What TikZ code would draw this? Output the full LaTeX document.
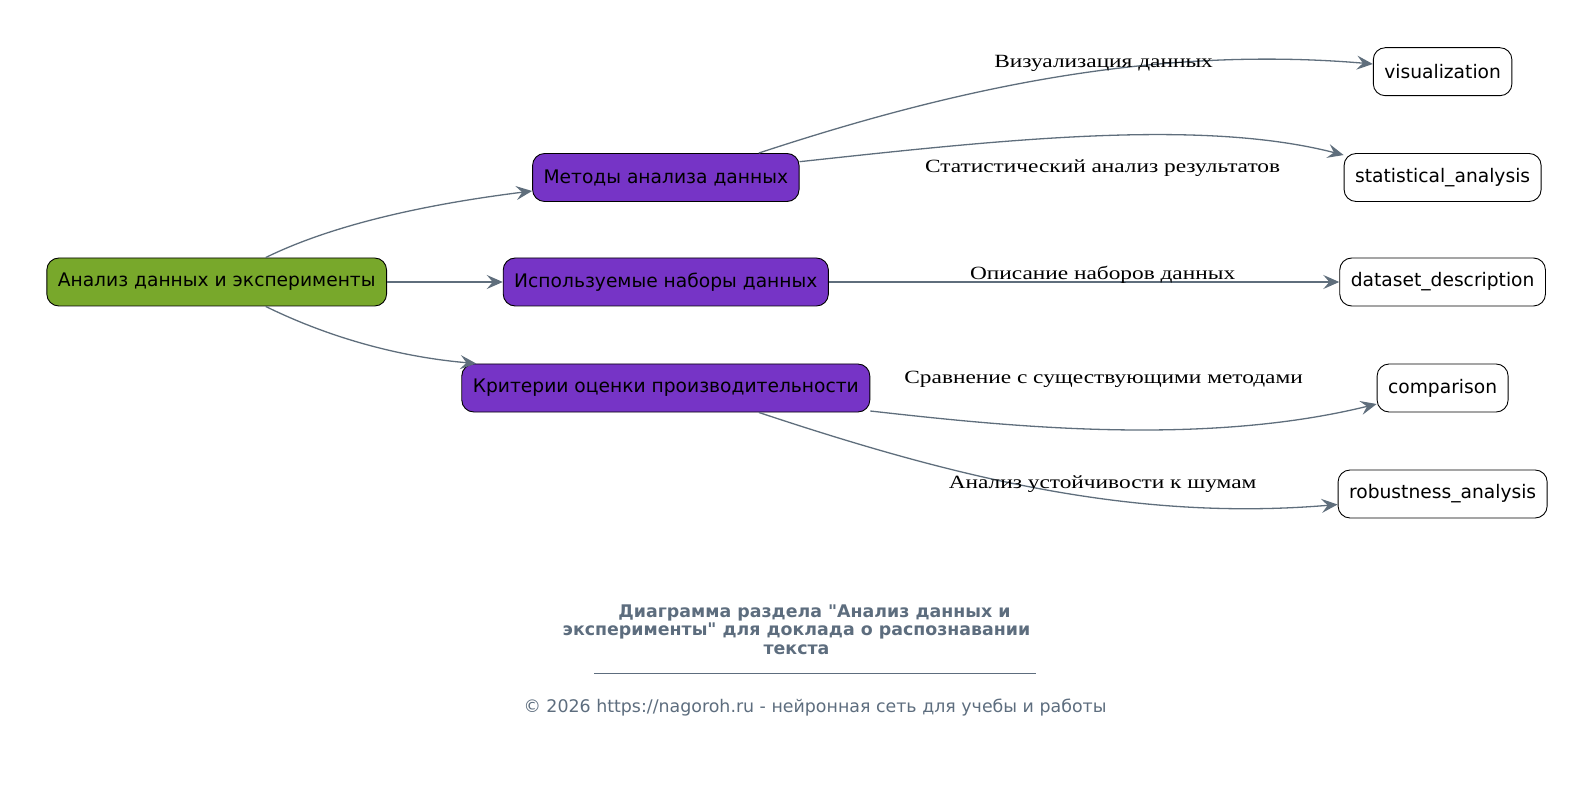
\documentclass[tikz,border=0pt]{standalone}
\usepackage{fontspec}
\setmainfont{DejaVu Sans}
\newfontfamily\labelserif{Liberation Serif}[FakeStretch=1.25]
\usepackage{tikz}
\usetikzlibrary{arrows.meta}

\definecolor{rootgreen}{HTML}{78A82B}
\definecolor{sectpurple}{HTML}{7634C6}
\definecolor{edgegray}{HTML}{5F6E7C}
\definecolor{titlegray}{HTML}{5D6D7E}

\tikzset{
  box/.style={draw=black, line width=0.9pt, rounded corners=12pt, minimum height=48pt,
    inner xsep=11pt, inner ysep=0pt, font=\fontsize{18.67}{22}\selectfont},
  rootbox/.style={box, fill=rootgreen},
  sectbox/.style={box, fill=sectpurple},
  leafbox/.style={box, fill=white},
  edge/.style={draw=edgegray, line width=1.3pt, -{Stealth[length=16pt,width=14pt,inset=6pt]}},
  edgelabel/.style={font=\labelserif\fontsize{18.67}{22}\selectfont}
}

\begin{document}
\begin{tikzpicture}[x=1pt,y=-1pt]
\useasboundingbox (0,0) rectangle (1595,791);
\node[rootbox] (root) at (216.7,282) {Анализ данных и эксперименты};
\node[sectbox] (methods) at (665.8,177.5) {Методы анализа данных};
\node[sectbox] (datasets) at (665.8,282) {Используемые наборы данных};
\node[sectbox] (criteria) at (665.8,388) {Критерии оценки производительности};
\foreach \n/\y/\t in {vis/71.7/visualization,stat/177.5/statistical\_analysis,
    desc/282/dataset\_description,comp/388/comparison,robust/494/robustness\_analysis}
  \node[leafbox] (\n) at (1442.6,\y) {\t};

\draw[edge] ([xshift=49pt]root.north) .. controls (330,226) and (420,205) .. ([yshift=-13.5pt]methods.west);
\draw[edge] (root.east) -- (datasets.west);
\draw[edge] ([xshift=49pt]root.south) .. controls (330,338) and (400,357) .. ([xshift=15pt]criteria.north west);

\draw[edge] ([xshift=93pt]methods.north) .. controls (950,90) and (1150,45) .. ([yshift=7.7pt]vis.west);
\draw[edge] ([yshift=15.8pt]methods.east) .. controls (1000,140) and (1200,118) .. ([yshift=-2pt]stat.north west);
\draw[edge] (datasets.east) -- (desc.west);
\draw[edge] ([yshift=-23pt]criteria.east) .. controls (1000,425.5) and (1200,447.5) .. ([yshift=-16pt]comp.west);
\draw[edge] ([xshift=93pt]criteria.south) .. controls (950,476) and (1130,522) .. ([yshift=-10.5pt]robust.west);

\foreach \n/\x/\y/\t in {lvis/1103.6/63/Визуализация данных,
    lstat/1102.6/167.8/Статистический анализ результатов,
    ldesc/1102.6/274.6/Описание наборов данных,
    lcomp/1103.6/379.4/Сравнение с существующими методами,
    lrobust/1102.6/484/Анализ устойчивости к шумам}
  \node[edgelabel] (\n) at (\x,\y) {\t};

\node[text=titlegray, align=center, font=\bfseries\fontsize{17.4}{18.5}\selectfont] (title) at (796.5,629.6)
  {\hspace*{36pt}Диаграмма раздела \textquotedbl Анализ данных и\\эксперименты\textquotedbl{} для доклада о распознавании\\текста};
\draw[titlegray, line width=0.8pt] (594,673) -- (1035.5,673);
\node[text=titlegray, font=\fontsize{17.4}{19}\selectfont] (copy) at (815,708)
  {© 2026 https://nagoroh.ru - нейронная сеть для учебы и работы};
\end{tikzpicture}
\end{document}
